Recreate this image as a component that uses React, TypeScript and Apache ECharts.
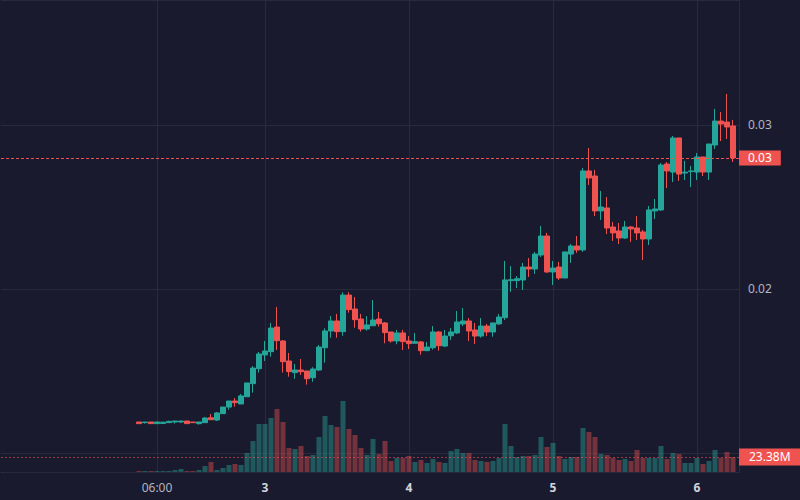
import React, { useEffect, useRef } from "react";
import * as echarts from "echarts";

// hours relative to day "3" 00:00; first candle is day 2 03:00
const firstHour = -21;
const axisStartHour = -44;
const axisEndHour = 79;
const labelHours = [-18, 0, 24, 48, 72];
const labelTexts = ["06:00", "3", "4", "5", "6"];

const opens = [
  0.01189, 0.01185, 0.01189, 0.01179, 0.0118, 0.01185, 0.01189, 0.01189, 0.01195, 0.01189,
  0.01179, 0.01185, 0.01215, 0.01201, 0.0124, 0.0128, 0.01317, 0.01299, 0.01343, 0.01423,
  0.01514, 0.01598, 0.01618, 0.01768, 0.01683, 0.01561, 0.0149, 0.01506, 0.015, 0.01459,
  0.01506, 0.01642, 0.01744, 0.01805, 0.0174, 0.01963, 0.01878, 0.01817, 0.01756, 0.01776,
  0.01817, 0.01793, 0.01738, 0.01683, 0.01732, 0.01683, 0.01669, 0.01677, 0.01624, 0.01642,
  0.01738, 0.01652, 0.01715, 0.01732, 0.01787, 0.01805, 0.0175, 0.01713, 0.01774, 0.01738,
  0.01787, 0.01825, 0.02051, 0.02051, 0.02055, 0.02134, 0.02122, 0.02207, 0.02323, 0.02104,
  0.02134, 0.02067, 0.02213, 0.02262, 0.02238, 0.0272, 0.02689, 0.02476, 0.02494, 0.02378,
  0.02354, 0.02311, 0.02378, 0.02372, 0.02348, 0.02305, 0.02476, 0.02482, 0.02762, 0.02713,
  0.02921, 0.02707, 0.02716, 0.02713, 0.02805, 0.02713, 0.02878, 0.03024, 0.03018, 0.02994,
];
const closes = [
  0.01179, 0.01189, 0.01179, 0.01189, 0.01188, 0.01193, 0.01195, 0.01195, 0.01179, 0.01185,
  0.01189, 0.01213, 0.01203, 0.01244, 0.0128, 0.01317, 0.01307, 0.01348, 0.01427, 0.01518,
  0.01604, 0.01622, 0.01762, 0.01685, 0.01557, 0.01496, 0.01506, 0.01496, 0.01453, 0.01512,
  0.01646, 0.01744, 0.01805, 0.0174, 0.01963, 0.01874, 0.01813, 0.01756, 0.01781, 0.01811,
  0.01788, 0.01734, 0.01683, 0.01732, 0.01679, 0.01667, 0.01679, 0.01624, 0.01646, 0.01738,
  0.01654, 0.01713, 0.01738, 0.01799, 0.01805, 0.01744, 0.01713, 0.01774, 0.01738, 0.01793,
  0.01829, 0.02055, 0.02057, 0.02063, 0.02134, 0.02122, 0.02213, 0.02323, 0.02104, 0.02128,
  0.02067, 0.02226, 0.02262, 0.02238, 0.0272, 0.02677, 0.02476, 0.025, 0.02372, 0.02342,
  0.02311, 0.02378, 0.02366, 0.02342, 0.02305, 0.02482, 0.02488, 0.02756, 0.0272, 0.02921,
  0.02701, 0.02713, 0.0272, 0.02805, 0.02713, 0.02884, 0.03024, 0.03006, 0.02988, 0.02799,
];
const lows = [
  0.01179, 0.01179, 0.01179, 0.01179, 0.0118, 0.01185, 0.01179, 0.01183, 0.01179, 0.01185,
  0.01173, 0.01185, 0.01203, 0.01195, 0.0124, 0.01264, 0.01282, 0.01299, 0.01343, 0.01368,
  0.0149, 0.01561, 0.01587, 0.01628, 0.0149, 0.01465, 0.01453, 0.01476, 0.01417, 0.01435,
  0.015, 0.01551, 0.01703, 0.01703, 0.01715, 0.01856, 0.01764, 0.0174, 0.01746, 0.01776,
  0.0177, 0.01669, 0.01673, 0.01663, 0.01628, 0.01634, 0.01669, 0.01599, 0.01624, 0.0163,
  0.01624, 0.01646, 0.01689, 0.01726, 0.01774, 0.01683, 0.01665, 0.01703, 0.01713, 0.01709,
  0.01781, 0.01811, 0.01982, 0.02006, 0.01994, 0.02073, 0.02092, 0.02195, 0.02098, 0.02024,
  0.02055, 0.02067, 0.02159, 0.0222, 0.02226, 0.02634, 0.02445, 0.02421, 0.02335, 0.02293,
  0.02274, 0.02305, 0.02287, 0.02299, 0.02177, 0.02268, 0.02427, 0.02476, 0.02616, 0.02652,
  0.02659, 0.02665, 0.02622, 0.02665, 0.02689, 0.02665, 0.02854, 0.02902, 0.02915, 0.02774,
];
const highs = [
  0.01189, 0.01189, 0.01189, 0.01189, 0.01189, 0.01197, 0.01195, 0.01196, 0.01195, 0.01189,
  0.01189, 0.0122, 0.01238, 0.0125, 0.01281, 0.01317, 0.01335, 0.0136, 0.01427, 0.0153,
  0.01616, 0.01683, 0.01793, 0.0189, 0.01689, 0.0161, 0.01543, 0.01573, 0.015, 0.01523,
  0.01659, 0.0176, 0.01835, 0.01848, 0.0198, 0.0198, 0.01951, 0.01848, 0.01835, 0.01933,
  0.0186, 0.01799, 0.01738, 0.0175, 0.0175, 0.01713, 0.01732, 0.01683, 0.01677, 0.01774,
  0.01744, 0.0175, 0.01762, 0.01866, 0.01884, 0.01823, 0.01793, 0.01823, 0.01787, 0.01793,
  0.01848, 0.02171, 0.0214, 0.02079, 0.02159, 0.02189, 0.02226, 0.02384, 0.02342, 0.02171,
  0.02165, 0.02226, 0.02274, 0.02323, 0.02738, 0.0286, 0.02726, 0.02598, 0.02561, 0.02409,
  0.02402, 0.02415, 0.02384, 0.02445, 0.0236, 0.02506, 0.02549, 0.02768, 0.02774, 0.02933,
  0.02921, 0.02781, 0.0275, 0.02829, 0.02805, 0.02884, 0.03098, 0.03079, 0.03189, 0.03031,
];
// volume in millions
const volumes = [
  1.56, 1.56, 1.56, 1.56, 1.56, 1.56, 3.12, 4.68, 1.56, 1.56,
  3.12, 9.35, 15.59, 3.12, 6.23, 10.91, 12.47, 10.91, 29.61, 48.31,
  74.81, 74.81, 84.16, 98.19, 77.93, 37.4, 35.85, 40.52, 24.94, 26.49,
  54.55, 87.28, 73.25, 70.13, 110.65, 67.02, 57.66, 37.4, 26.49, 51.43,
  28.05, 48.31, 17.14, 21.82, 21.82, 24.94, 15.59, 18.7, 14.03, 20.26,
  15.59, 14.03, 32.73, 35.85, 29.61, 29.61, 18.7, 17.14, 15.59, 17.14,
  21.82, 74.81, 40.52, 23.38, 24.94, 24.94, 26.49, 54.55, 38.96, 45.2,
  24.94, 20.26, 23.38, 23.38, 68.57, 62.34, 54.55, 28.05, 26.49, 21.82,
  18.7, 20.26, 17.14, 34.29, 21.82, 21.82, 21.82, 40.52, 20.26, 29.61,
  28.05, 14.03, 14.03, 21.82, 12.47, 17.14, 34.29, 21.82, 31.17, 23.38,
];

const UP = "#26a69a";
const DOWN = "#ef5350";
const UP_VOL = "rgba(38,166,154,0.45)";
const DOWN_VOL = "rgba(239,83,80,0.42)";
const BG = "#1a1a2e";
const GRID = "#2a2a3e";
const TEXT = "#b2b5be";
const FONT = "'Noto Sans', sans-serif";

export default function App() {
  const ref = useRef<HTMLDivElement>(null);

  useEffect(() => {
    document.body.style.margin = "0";
    document.body.style.background = BG;
    if (!ref.current) return;
    const chart = echarts.init(ref.current, undefined, { renderer: "svg" });

    const cats: string[] = [];
    for (let h = axisStartHour; h <= axisEndHour; h++) cats.push(String(h));

    const candleData: any[] = [];
    const volData: any[] = [];
    cats.forEach((c) => {
      const i = Number(c) - firstHour;
      if (i >= 0 && i < opens.length) {
        candleData.push([opens[i], closes[i], lows[i], highs[i]]);
        volData.push({
          value: volumes[i],
          itemStyle: { color: closes[i] >= opens[i] ? UP_VOL : DOWN_VOL },
        });
      } else {
        candleData.push(["-", "-", "-", "-"]);
        volData.push("-");
      }
    });

    const isLabel = (_idx: number, v: string) => labelHours.indexOf(Number(v)) >= 0;
    const lastClose = closes[closes.length - 1];
    const lastVol = volumes[volumes.length - 1];

    chart.setOption({
      animation: false,
      backgroundColor: BG,
      textStyle: { fontFamily: FONT },
      grid: [
        { left: 1, top: 0, width: 738, bottom: 28 },
        { left: 1, width: 738, bottom: 28, height: 100 },
      ],
      xAxis: [
        {
          type: "category",
          gridIndex: 0,
          data: cats,
          boundaryGap: false,
          axisLine: { show: true, lineStyle: { color: GRID } },
          axisTick: { show: false },
          axisLabel: {
            interval: isLabel,
            margin: 9,
            fontSize: 12,
            color: TEXT,
            fontFamily: FONT,
            formatter: (v: string) => {
              const k = labelHours.indexOf(Number(v));
              if (k < 0) return "";
              return Number(v) % 24 === 0 ? `{d|${labelTexts[k]}}` : labelTexts[k];
            },
            rich: { d: { fontWeight: "bold", color: "#d1d4dc", fontSize: 12, fontFamily: FONT } },
          },
          splitLine: { show: true, interval: isLabel, lineStyle: { color: GRID, width: 1 } },
        },
        {
          type: "category",
          gridIndex: 1,
          data: cats,
          boundaryGap: false,
          show: false,
        },
      ],
      yAxis: [
        {
          type: "value",
          gridIndex: 0,
          position: "right",
          min: 0.008841,
          max: 0.037622,
          splitNumber: 3,
          axisLine: { show: true, lineStyle: { color: GRID } },
          axisTick: { show: false },
          axisLabel: {
            margin: 9,
            fontSize: 12,
            color: TEXT,
            fontFamily: FONT,
            showMinLabel: false,
            showMaxLabel: false,
            formatter: (v: number) =>
              Math.abs(v - 0.02) < 1e-9 || Math.abs(v - 0.03) < 1e-9 ? v.toFixed(2) : "",
          },
          splitLine: { show: true, lineStyle: { color: GRID, width: 1 } },
        },
        {
          type: "value",
          gridIndex: 1,
          min: 0,
          max: 155.86,
          show: false,
        },
      ],
      series: [
        {
          type: "bar",
          xAxisIndex: 1,
          yAxisIndex: 1,
          data: volData,
          barWidth: 5,
          z: 2,
          markLine: {
            silent: true,
            precision: 4,
            symbol: ["none", "none"],
            data: [{ yAxis: lastVol }],
            lineStyle: { color: "rgba(239,83,80,0.6)", type: [2, 2], width: 1 },
            label: {
              position: "end",
              distance: 0,
              formatter: (p: any) => `${Number(p.value).toFixed(2)}M`,
              backgroundColor: DOWN,
              color: "#ffffff",
              fontSize: 12,
              fontFamily: FONT,
              padding: [3, 10, 2, 10],
            },
          },
        },
        {
          type: "candlestick",
          xAxisIndex: 0,
          yAxisIndex: 0,
          data: candleData,
          barWidth: 5,
          z: 3,
          itemStyle: {
            color: UP,
            color0: DOWN,
            borderColor: UP,
            borderColor0: DOWN,
            borderColorDoji: UP,
            borderWidth: 1,
          },
          markLine: {
            silent: true,
            precision: 6,
            symbol: ["none", "none"],
            data: [{ yAxis: lastClose }],
            lineStyle: { color: DOWN, type: [3, 2], width: 1, opacity: 1 },
            label: {
              position: "end",
              distance: 0,
              formatter: (p: any) => Number(p.value).toFixed(2),
              backgroundColor: DOWN,
              color: "#ffffff",
              fontSize: 12,
              fontFamily: FONT,
              padding: [2, 9, 1, 9],
            },
          },
        },
      ],
    });

    return () => chart.dispose();
  }, []);

  return <div ref={ref} style={{ width: 800, height: 500, background: BG }} />;
}
